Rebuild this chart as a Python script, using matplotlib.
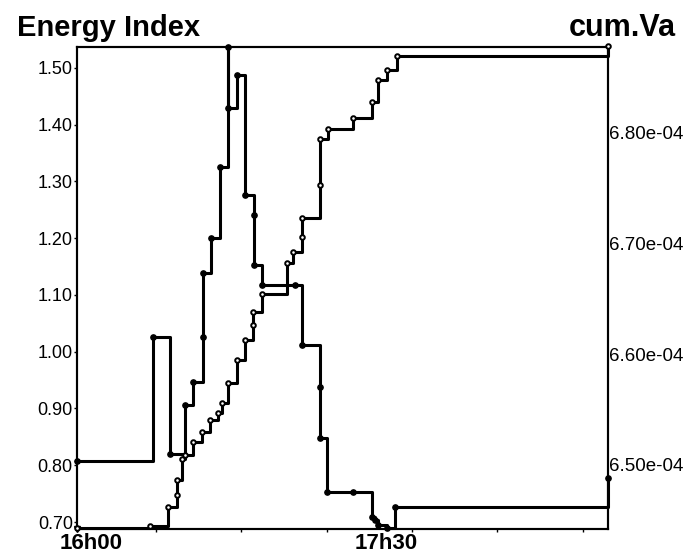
import matplotlib.pyplot as plt
from matplotlib.ticker import FormatStrFormatter

# time in minutes after 16h00
t_energy = [0, 20.4, 25.0, 29.0, 31.2, 33.9, 33.9, 36.0, 38.4, 40.6, 40.6, 43.0,
            45.2, 47.6, 47.6, 49.7, 58.6, 60.5, 65.3, 65.3, 67.2, 74.2, 79.3,
            80.2, 80.9, 83.3, 85.5, 142.7]
energy = [0.807, 1.026, 0.820, 0.906, 0.947, 1.026, 1.139, 1.200, 1.326, 1.537,
          1.430, 1.488, 1.276, 1.241, 1.153, 1.118, 1.118, 1.012, 0.938, 0.848,
          0.753, 0.753, 0.709, 0.703, 0.695, 0.689, 0.726, 0.777]

t_cumva = [0, 19.6, 24.5, 26.9, 26.9, 28.2, 29.0, 31.2, 33.6, 35.8, 37.9, 39.0,
           40.6, 43.0, 45.2, 47.3, 47.3, 49.7, 56.5, 58.1, 60.5, 60.5, 65.3,
           65.3, 67.5, 74.2, 79.3, 80.9, 83.3, 86.0, 142.7]
cumva = [6.443e-4, 6.445e-4, 6.462e-4, 6.473e-4, 6.486e-4, 6.505e-4, 6.509e-4,
         6.521e-4, 6.530e-4, 6.541e-4, 6.547e-4, 6.556e-4, 6.574e-4, 6.595e-4,
         6.613e-4, 6.626e-4, 6.638e-4, 6.654e-4, 6.682e-4, 6.692e-4, 6.706e-4,
         6.723e-4, 6.753e-4, 6.794e-4, 6.803e-4, 6.813e-4, 6.828e-4, 6.848e-4,
         6.857e-4, 6.869e-4, 6.878e-4]

energy_ticks = [0.70, 0.80, 0.90, 1.00, 1.10, 1.20, 1.30, 1.40, 1.50]
cumva_ticks = [6.50e-4, 6.60e-4, 6.70e-4, 6.80e-4]
time_labels = ['16h00', '17h30']
time_label_pos = [3.8, 83.0]
minor_time_ticks = [21.2, 44.1, 67.2, 90.0, 113.0, 136.0]

plt.rcParams['font.family'] = ['Liberation Sans', 'DejaVu Sans']

fig = plt.figure(figsize=(6.87, 5.58), dpi=100)
ax = fig.add_axes([0.112, 0.052, 0.773, 0.864])

ax.step(t_energy, energy, where='post', color='black', lw=2.2,
        marker='o', ms=3.8, clip_on=False, zorder=3)
ax.set_xlim(0, 142.7)
ax.set_ylim(0.6877, 1.537)
ax.set_yticks(energy_ticks)
ax.yaxis.set_major_formatter(FormatStrFormatter('%.2f'))
ax.tick_params(axis='y', labelsize=13, length=2, width=1, pad=1)

ax.set_xticks(minor_time_ticks)
ax.set_xticklabels([])
ax.tick_params(axis='x', length=2, width=1)
xtrans = ax.get_xaxis_transform()
for pos, lab in zip(time_label_pos, time_labels):
    ax.text(pos, -0.008, lab, transform=xtrans, ha='center', va='top',
            fontsize=16, fontweight='bold')

ax2 = ax.twinx()
ax2.step(t_cumva, cumva, where='post', color='black', lw=2.2,
         marker='o', ms=3.3, mfc='white', mew=1.4, clip_on=False, zorder=3)
ax2.set_ylim(6.4422e-4, 6.8776e-4)
ax2.set_yticks(cumva_ticks)
ax2.yaxis.set_major_formatter(FormatStrFormatter('%.2e'))
ax2.tick_params(axis='y', labelsize=13.5, length=0, pad=1)

for a in (ax, ax2):
    for sp in a.spines.values():
        sp.set_linewidth(1.5)
        sp.set_color('black')

# arrow tip at the foot of the energy axis
ax.plot([0], [0.6877], marker='v', color='black', ms=5, clip_on=False)

fig.text(17 / 687, 1 - 28 / 558, 'Energy Index', fontsize=21,
         fontweight='bold', va='center', ha='left')
fig.text(676 / 687, 1 - 28 / 558, 'cum.Va', fontsize=22,
         fontweight='bold', va='center', ha='right')

fig.savefig('out.png', dpi=100)
